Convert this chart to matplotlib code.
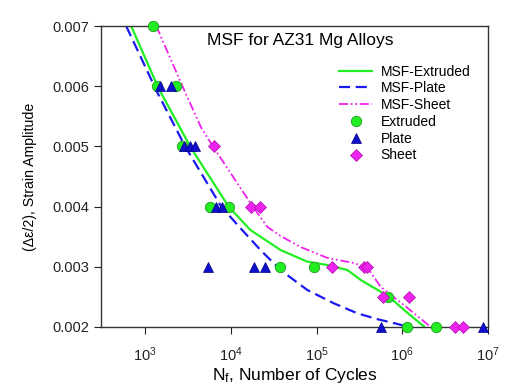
import numpy as np
import matplotlib
matplotlib.use('Agg')
import matplotlib.pyplot as plt

plt.rcParams['font.family'] = ['Liberation Sans', 'DejaVu Sans']
plt.rcParams['mathtext.fontset'] = 'custom'
plt.rcParams['mathtext.rm'] = 'Liberation Sans'
plt.rcParams['mathtext.it'] = 'Liberation Sans'
plt.rcParams['mathtext.default'] = 'regular'

# measured points
ext_N = [1250, 1380, 2300, 2690, 5770, 9400, 37100, 93500, 678000, 1120000, 2500000]
ext_S = [0.007, 0.006, 0.006, 0.005, 0.004, 0.004, 0.003, 0.003, 0.0025, 0.002, 0.002]

plate_N = [1470, 2000, 2800, 3300, 3780, 6760, 7900, 5450, 18800, 25200, 560000, 8700000]
plate_S = [0.006, 0.006, 0.005, 0.005, 0.005, 0.004, 0.004, 0.003, 0.003, 0.003, 0.002, 0.002]

sheet_N = [6300, 17000, 21700, 152000, 355000, 392000, 603000, 1200000, 4100000, 5100000]
sheet_S = [0.005, 0.004, 0.004, 0.003, 0.003, 0.003, 0.0025, 0.0025, 0.002, 0.002]

# MSF fit curves (log10 N, strain)
msf_ext_logN = [2.836, 3.156, 3.526, 3.974, 4.228, 4.345, 4.579,
                4.891, 5.125, 5.359, 5.515, 5.846, 6.021, 6.255]
msf_ext_S = [0.007, 0.005965, 0.004995, 0.003998, 0.003611, 0.0035, 0.003279,
             0.003085, 0.00303, 0.002947, 0.002781, 0.002503, 0.002282, 0.002005]

msf_plate_logN = [2.778, 3.137, 3.468, 3.888, 4.131, 4.345, 4.579,
                  4.891, 5.202, 5.476, 5.71, 5.944, 6.061]
msf_plate_S = [0.007, 0.005909, 0.004995, 0.003998, 0.003611, 0.003279, 0.002947,
               0.002615, 0.002393, 0.002227, 0.00213, 0.00205, 0.002005]

msf_sheet_logN = [3.129, 3.444, 3.655, 3.795, 4.251, 4.427, 4.579, 4.813,
                  5.129, 5.433, 5.596, 5.749, 6.018, 6.333]
msf_sheet_S = [0.007, 0.00597, 0.005306, 0.00499, 0.00401, 0.003661, 0.003512, 0.003329,
               0.003146, 0.003063, 0.00298, 0.002664, 0.002365, 0.002]

fig = plt.figure(figsize=(5.06, 3.91), dpi=100)
ax = fig.add_axes([0.1996, 0.1637, 0.7648, 0.7698])

ax.plot(10 ** np.array(msf_ext_logN), msf_ext_S, color='#22ee22', lw=1.6, label='MSF-Extruded')
ax.plot(10 ** np.array(msf_plate_logN), msf_plate_S, color='#1a1aee', lw=1.6,
        dashes=(5, 2.5), label='MSF-Plate')
ax.plot(10 ** np.array(msf_sheet_logN), msf_sheet_S, color='#ee22ee', lw=1.3,
        dashes=(5, 1.5, 1, 1.5, 1, 1.5), label='MSF-Sheet')

ax.plot(ext_N, ext_S, 'o', ms=7.5, mfc='#22ee22', mec='#229922', mew=0.6,
        ls='none', clip_on=False, label='Extruded', zorder=4)
ax.plot(plate_N, plate_S, '^', ms=7, mfc='#1010cc', mec='#000088', mew=0.5,
        ls='none', clip_on=False, label='Plate', zorder=5)
ax.plot(sheet_N, sheet_S, 'D', ms=6.5, mfc='#ee22ee', mec='#aa11aa', mew=0.5,
        ls='none', clip_on=False, label='Sheet', zorder=4)

ax.set_xscale('log')
ax.set_xlim(305, 1e7)
ax.set_ylim(0.002, 0.007)
ax.set_xticks([1e3, 1e4, 1e5, 1e6, 1e7])
ax.xaxis.set_minor_locator(matplotlib.ticker.NullLocator())
ax.set_yticks([0.002, 0.003, 0.004, 0.005, 0.006, 0.007])
ax.yaxis.set_major_formatter(matplotlib.ticker.FormatStrFormatter('%.3f'))
ax.tick_params(direction='out', length=5, width=0.8, labelsize=10.5, colors='#222222')
ax.tick_params(axis='x', pad=8)

for s in ax.spines.values():
    s.set_linewidth(1.0)
    s.set_color('#333333')

ax.set_xlabel(r'N$_f$, Number of Cycles', fontsize=12.5, labelpad=2)
ax.set_ylabel('(\u0394\u03b5/2), Strain Amplitude', fontsize=10.2, labelpad=11)

ax.text(0.514, 0.953, 'MSF for AZ31 Mg Alloys', transform=ax.transAxes,
        ha='center', va='center', fontsize=12.5)

ax.legend(loc='upper left', bbox_to_anchor=(0.615, 0.872), frameon=False,
          fontsize=10, handlelength=2.4, handletextpad=0.6, labelspacing=0.2,
          borderpad=0, borderaxespad=0)

fig.savefig('out.png', dpi=100)
